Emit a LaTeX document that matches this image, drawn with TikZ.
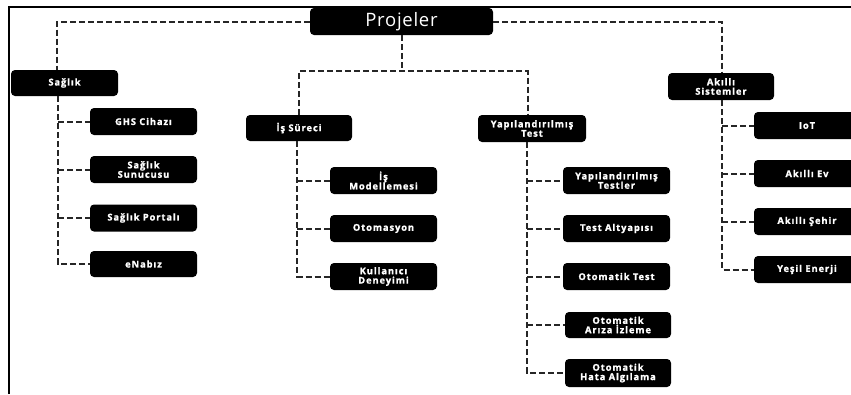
\documentclass[tikz,border=0pt]{standalone}
\usepackage{fontspec}
\setmainfont{Open Sans}
\newfontfamily\boxfont{Open Sans}[LetterSpace=10, BoldFeatures={FakeBold=1.3, LetterSpace=10}]
\newfontfamily\titlefont{Open Sans}[LetterSpace=4]
\begin{document}
\begin{tikzpicture}[x=1pt,y=-1pt,
  box/.style={fill=black, rounded corners=4pt, text=white, align=center,
    font=\boxfont\bfseries\fontsize{9.3}{9.4}\selectfont, minimum width=107pt, minimum height=27pt, inner sep=1pt},
  conn/.style={draw=black!85, line width=2pt, dash pattern=on 6pt off 3pt},
  frame/.style={draw=black, line width=2.4pt}]
\useasboundingbox (0,0) rectangle (851,394);
\clip (0,0) rectangle (851,394);
\fill[white] (0,0) rectangle (851,394);
% frame
\draw[frame] (9,394) -- (9,7) -- (851,7);
% nodes
\node[box, minimum width=183pt, font=\titlefont\fontsize{18.5}{18.5}\selectfont] (proj) at (401.5,21.5) {Projeler};
\node[box, minimum height=26pt] (sag) at (64.5,83) {Sağlık};
\node[box] (ghs) at (143.5,121.5) {GHS Cihazı};
\node[box] (sun) at (143.5,169.5) {Sağlık\\Sunucusu};
\node[box] (por) at (143.5,218) {Sağlık Portalı};
\node[box, minimum height=26pt] (ena) at (143.5,264) {eNabız};
\node[box, minimum width=106pt, minimum height=26pt] (is) at (299,128) {İş Süreci};
\node[box] (ism) at (383.5,180.5) {İş\\Modellemesi};
\node[box] (oto) at (383.5,228.5) {Otomasyon};
\node[box] (kul) at (383.5,276.5) {Kullanıcı\\Deneyimi};
\node[box, minimum width=108pt] (yt) at (532,128.5) {Yapılandırılmış\\Test};
\node[box] (ytl) at (616.5,180.5) {Yapılandırılmış\\Testler};
\node[box] (tal) at (616.5,228.5) {Test Altyapısı};
\node[box] (ott) at (616.5,276.5) {Otomatik Test};
\node[box, minimum width=106pt, minimum height=26pt] (ari) at (618,325) {Otomatik\\Arıza İzleme};
\node[box, minimum width=106pt, minimum height=28pt] (hat) at (618,373) {Otomatik\\Hata Algılama};
\node[box, minimum width=106pt] (aks) at (721,86.5) {Akıllı\\Sistemler};
\node[box, minimum width=106pt] (iot) at (807,125.5) {IoT};
\node[box, minimum width=106pt] (ev) at (807,173.5) {Akıllı Ev};
\node[box, minimum width=106pt] (seh) at (807,221.5) {Akıllı Şehir};
\node[box, minimum width=106pt] (yes) at (807,269.5) {Yeşil Enerji};
% connectors top level
\coordinate (sagtop) at ([xshift=-7.5pt]sag.north);
\coordinate (j) at ([yshift=-36pt]proj.south);
\coordinate (ytop) at ([xshift=-4pt]yt.north);
\draw[conn] (proj.west) -| (sagtop);
\draw[conn] (proj.east) -| ([xshift=1pt]aks.north);
\draw[conn] (proj.south) -- (j);
\draw[conn] (is.north) |- (j) -| (ytop);
% Sağlık children
\coordinate (sagb) at ([xshift=-6.5pt]sag.south);
\draw[conn] (sagb) |- (ena.west);
\foreach \c in {ghs,sun,por} \draw[conn] (sagb |- \c.west) -- (\c.west);
% İş Süreci children
\coordinate (isb) at ([xshift=-2pt]is.south);
\draw[conn] (isb) |- (kul.west);
\foreach \c in {ism,oto} \draw[conn] (isb |- \c.west) -- (\c.west);
% Yapılandırılmış Test children
\coordinate (ytb) at ([xshift=-5pt]yt.south);
\draw[conn] (ytb) |- (hat.west);
\foreach \c in {ytl,tal,ott,ari} \draw[conn] (ytb |- \c.west) -- (\c.west);
% Akıllı Sistemler children
\coordinate (aksb) at ([xshift=1pt]aks.south);
\draw[conn] (aksb) |- (yes.west);
\foreach \c in {iot,ev,seh} \draw[conn] (aksb |- \c.west) -- (\c.west);
\end{tikzpicture}
\end{document}
